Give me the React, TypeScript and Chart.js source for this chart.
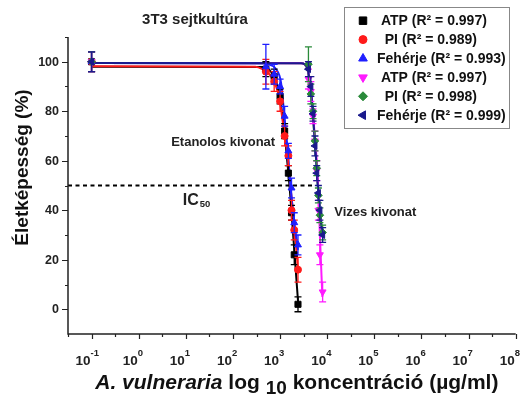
import React, { useEffect, useRef } from 'react';
import { Chart, registerables } from 'chart.js';
import { drawPoint } from 'chart.js/helpers';

Chart.register(...registerables);

const FONT = "'Liberation Sans', Arial, sans-serif";

// Concentrations (µg/ml) of the two extracts
const ethanolConc = [0.1, 500, 750, 1000, 1250, 1500, 1750, 2000, 2400];
const aqueousConc = [0.1, 4000, 4500, 5000, 5500, 6000, 6500, 7000, 8000];

// Ethanolic extract: viability (%) and SD
const ethAtp = [100, 97, 94, 86, 72, 55, 39, 22, 2];
const ethAtpErr = [4, 3, 3, 3, 3, 3, 3, 4, 3];
const ethPi = [100, 96, 92, 84, 70, 62, 40, 32, 16];
const ethPiErr = [4, 5, 4, 4, 4, 4, 4, 4, 5];
const ethProt = [100, 98, 95, 90, 78, 64, 49, 35, 26];
const ethProtErr = [4, 9, 4, 3, 4, 3, 4, 4, 4];

// Aqueous extract: viability (%) and SD
const aqAtp = [100, 93, 88, 78, 68, 56, 40, 22, 7];
const aqAtpErr = [4, 4, 4, 3, 4, 4, 4, 4, 4];
const aqPi = [100, 99, 87, 80, 68, 57, 46, 38, 31];
const aqPiErr = [4, 7, 4, 3, 4, 3, 3, 3, 3];
const aqProt = [100, 97, 90, 79, 66, 55, 47, 40, 30];
const aqProtErr = [4, 3, 4, 3, 4, 3, 3, 4, 3];

// Dose-response fits, sampled along each fitted curve
const fitEthAtpX = [0.1, 450, 560, 750, 950, 1200, 1450, 1600, 1800, 2000, 2430];
const fitEthAtpY = [98, 97.9, 97, 94, 87, 74, 58, 49, 36, 24, 2];
const fitEthPiX = [0.1, 300, 423, 594, 824, 968, 1235, 1450, 1655, 2010, 2400];
const fitEthPiY = [98.2, 98, 97, 95, 90, 85, 71, 62, 50, 34, 16];
const fitEthProtX = [0.1, 450, 540, 820, 1050, 1235, 1450, 1655, 2010, 2400];
const fitEthProtY = [99.5, 99.4, 99, 97, 91.5, 78, 64.5, 50, 35, 24];
const fitAqAtpX = [0.1, 2800, 3300, 3845, 4540, 5150, 5785, 6255, 7000, 7900];
const fitAqAtpY = [99.5, 99.4, 99, 97, 89, 76, 64, 55, 30, 5];
const fitAqPiX = [0.1, 2800, 3300, 3845, 4540, 5150, 5785, 6255, 7100, 8000];
const fitAqPiY = [99.5, 99.4, 99, 96.5, 88, 74, 61, 51, 39, 31];
const fitAqProtX = [0.1, 2800, 3300, 3845, 4540, 5150, 5785, 6255, 7100, 8000];
const fitAqProtY = [99.5, 99.4, 99, 97, 88.5, 75, 61.5, 51, 38, 29];

// IC50 reference level
const icLevel = 50;
const icLineEnd = 5000;

// Axis ticks
const yMajorTicks = [0, 20, 40, 60, 80, 100];
const yMinorTicks = [10, 30, 50, 70, 90, 110];
const xExponents = [-1, 0, 1, 2, 3, 4, 5, 6, 7, 8];

const legendLabels = [
  ' ATP (R\u00B2 = 0.997)',
  '  PI (R\u00B2 = 0.989)',
  'Feh\u00E9rje (R\u00B2 = 0.993)',
  ' ATP (R\u00B2 = 0.997)',
  '  PI (R\u00B2 = 0.998)',
  'Feh\u00E9rje (R\u00B2 = 0.999)',
];

const COLORS = {
  black: '#000000',
  red: '#ff1a1a',
  blue: '#1f1fff',
  magenta: '#ff1aff',
  green: '#2a8a3a',
  navy: '#1a1a8c',
};

const pts = (xs: number[], ys: number[]) => xs.map((x, i) => ({ x, y: ys[i] }));

function pointSet(label: string, xs: number[], ys: number[], errs: number[], color: string, style: string, radius: number, legendRadius: number, rotation: number, order: number) {
  return {
    label,
    data: pts(xs, ys),
    errors: errs,
    legendRadius,
    showLine: false,
    pointStyle: style,
    pointRadius: radius,
    pointRotation: rotation,
    pointBackgroundColor: color,
    pointBorderColor: color,
    pointBorderWidth: 1,
    borderColor: color,
    backgroundColor: color,
    order,
  };
}

function fitSet(xs: number[], ys: number[], color: string, order: number) {
  return {
    label: '',
    data: pts(xs, ys),
    showLine: true,
    borderColor: color,
    borderWidth: 2,
    pointRadius: 0,
    cubicInterpolationMode: 'monotone',
    fill: false,
    order,
  };
}

const decorations = {
  id: 'decorations',
  beforeDatasetDraw(chart: any, args: any) {
    const ds = chart.data.datasets[args.index];
    if (!ds.errors) return;
    const ctx = chart.ctx;
    const ys = chart.scales.y;
    ctx.save();
    ctx.strokeStyle = ds.borderColor;
    ctx.lineWidth = 1.3;
    args.meta.data.forEach((el: any, i: number) => {
      const v = ds.data[i].y;
      const e = ds.errors[i];
      const top = ys.getPixelForValue(v + e);
      const bot = ys.getPixelForValue(v - e);
      ctx.beginPath();
      ctx.moveTo(el.x, top);
      ctx.lineTo(el.x, bot);
      ctx.moveTo(el.x - 3.5, top);
      ctx.lineTo(el.x + 3.5, top);
      ctx.moveTo(el.x - 3.5, bot);
      ctx.lineTo(el.x + 3.5, bot);
      ctx.stroke();
    });
    ctx.restore();
  },
  afterDraw(chart: any) {
    const ctx = chart.ctx as CanvasRenderingContext2D;
    const { left, right, top, bottom } = chart.chartArea;
    const xs = chart.scales.x;
    const ys = chart.scales.y;
    ctx.save();

    // axes
    ctx.strokeStyle = '#222';
    ctx.lineWidth = 1.5;
    ctx.beginPath();
    ctx.moveTo(left, top);
    ctx.lineTo(left, bottom);
    ctx.lineTo(right, bottom);
    ctx.stroke();

    ctx.lineWidth = 1.2;
    ctx.beginPath();
    yMajorTicks.forEach((v) => {
      const p = Math.round(ys.getPixelForValue(v)) + 0.5;
      ctx.moveTo(left - 6, p);
      ctx.lineTo(left, p);
    });
    yMinorTicks.forEach((v) => {
      const p = Math.round(ys.getPixelForValue(v)) + 0.5;
      ctx.moveTo(left - 3, p);
      ctx.lineTo(left, p);
    });
    xExponents.forEach((e) => {
      const p = Math.round(xs.getPixelForValue(Math.pow(10, e))) + 0.5;
      ctx.moveTo(p, bottom);
      ctx.lineTo(p, bottom + 5);
      const m = Math.round(xs.getPixelForValue(Math.pow(10, e - 0.5))) + 0.5;
      ctx.moveTo(m, bottom);
      ctx.lineTo(m, bottom + 3);
    });
    ctx.stroke();

    // y tick labels
    ctx.fillStyle = '#222';
    ctx.font = `bold 12.5px ${FONT}`;
    ctx.textAlign = 'right';
    ctx.textBaseline = 'middle';
    yMajorTicks.forEach((v) => {
      ctx.fillText(String(v), left - 9, ys.getPixelForValue(v) + 0.5);
    });

    // x tick labels: 10 with superscript exponent
    ctx.textBaseline = 'alphabetic';
    xExponents.forEach((e) => {
      const p = xs.getPixelForValue(Math.pow(10, e));
      ctx.font = `bold 13.5px ${FONT}`;
      ctx.textAlign = 'right';
      ctx.fillText('10', p - 1, bottom + 31);
      ctx.font = `bold 9.5px ${FONT}`;
      ctx.textAlign = 'left';
      ctx.fillText(String(e), p - 1, bottom + 22);
    });

    // x axis title
    const parts = [
      { t: 'A. vulneraria', f: `italic bold 21px ${FONT}`, dy: 0 },
      { t: ' log ', f: `bold 21px ${FONT}`, dy: 0 },
      { t: '10', f: `bold 19px ${FONT}`, dy: 5 },
      { t: ' koncentr\u00E1ci\u00F3 (\u00B5g/ml)', f: `bold 21px ${FONT}`, dy: 0 },
    ];
    let total = 0;
    parts.forEach((p) => {
      ctx.font = p.f;
      total += ctx.measureText(p.t).width;
    });
    let cx = (left + right) / 2 + 5 - total / 2;
    ctx.fillStyle = '#111';
    ctx.textAlign = 'left';
    parts.forEach((p) => {
      ctx.font = p.f;
      ctx.fillText(p.t, cx, bottom + 55 + p.dy);
      cx += ctx.measureText(p.t).width;
    });

    // y axis title
    ctx.save();
    ctx.translate(23, (top + bottom) / 2 - 18);
    ctx.rotate(-Math.PI / 2);
    ctx.textAlign = 'center';
    ctx.textBaseline = 'middle';
    ctx.font = `bold 19px ${FONT}`;
    ctx.fillText('\u00C9letk\u00E9pess\u00E9g (%)', 0, 0);
    ctx.restore();

    // chart title
    ctx.font = `bold 15px ${FONT}`;
    ctx.textAlign = 'center';
    ctx.fillStyle = '#222';
    ctx.fillText('3T3 sejtkult\u00FAra', 195, 24);

    // annotations
    ctx.font = `bold 13px ${FONT}`;
    ctx.textAlign = 'center';
    ctx.fillText('Etanolos kivonat', xs.getPixelForValue(62), ys.getPixelForValue(66));
    ctx.textAlign = 'left';
    ctx.fillText('Vizes kivonat', xs.getPixelForValue(14100), ys.getPixelForValue(37.7));
    const icX = xs.getPixelForValue(8.6);
    const icY = ys.getPixelForValue(42.1);
    ctx.font = `bold 16px ${FONT}`;
    ctx.fillText('IC', icX, icY);
    const icW = ctx.measureText('IC').width;
    ctx.font = `bold 9.5px ${FONT}`;
    ctx.fillText('50', icX + icW + 1, icY + 1.5);

    // legend
    const bx = 344, by = 7, bw = 165, bh = 121;
    ctx.fillStyle = '#fff';
    ctx.fillRect(bx, by, bw, bh);
    ctx.strokeStyle = '#888';
    ctx.lineWidth = 1;
    ctx.strokeRect(bx + 0.5, by + 0.5, bw, bh);
    const markers = chart.data.datasets.filter((d: any) => d.errors);
    markers.forEach((d: any, i: number) => {
      const ry = 20.7 + i * 18.9;
      ctx.fillStyle = d.borderColor;
      ctx.strokeStyle = d.borderColor;
      ctx.lineWidth = 1;
      drawPoint(ctx, { pointStyle: d.pointStyle, rotation: d.pointRotation, radius: d.legendRadius, borderWidth: 1 }, 363, ry);
      ctx.fillStyle = '#111';
      ctx.font = `bold 14px ${FONT}`;
      ctx.textAlign = 'left';
      ctx.textBaseline = 'middle';
      ctx.fillText(d.label, 377, ry + 0.5);
    });

    ctx.restore();
  },
};

export default function App() {
  const ref = useRef<HTMLCanvasElement>(null);

  useEffect(() => {
    const datasets: any[] = [
      pointSet(legendLabels[0], ethanolConc, ethAtp, ethAtpErr, COLORS.black, 'rect', 4.3, 5.3, 0, 5),
      pointSet(legendLabels[1], ethanolConc, ethPi, ethPiErr, COLORS.red, 'circle', 3.5, 4, 0, 4),
      pointSet(legendLabels[2], ethanolConc, ethProt, ethProtErr, COLORS.blue, 'triangle', 4, 5, 0, 3),
      pointSet(legendLabels[3], aqueousConc, aqAtp, aqAtpErr, COLORS.magenta, 'triangle', 4, 5, 180, 2),
      pointSet(legendLabels[4], aqueousConc, aqPi, aqPiErr, COLORS.green, 'rectRot', 3.8, 4.5, 0, 1),
      pointSet(legendLabels[5], aqueousConc, aqProt, aqProtErr, COLORS.navy, 'triangle', 4, 5, -90, 0),
      fitSet(fitAqProtX, fitAqProtY, COLORS.navy, 10),
      fitSet(fitEthProtX, fitEthProtY, COLORS.blue, 11),
      fitSet(fitAqAtpX, fitAqAtpY, COLORS.magenta, 12),
      fitSet(fitAqPiX, fitAqPiY, COLORS.green, 13),
      fitSet(fitEthPiX, fitEthPiY, COLORS.red, 14),
      fitSet(fitEthAtpX, fitEthAtpY, COLORS.black, 15),
      {
        label: '',
        data: [{ x: Math.pow(10, -1.5), y: icLevel }, { x: icLineEnd, y: icLevel }],
        showLine: true,
        borderColor: '#000',
        borderWidth: 2,
        borderDash: [4, 3.5],
        pointRadius: 0,
        order: 20,
      },
    ];

    const chart = new Chart(ref.current as HTMLCanvasElement, {
      type: 'scatter',
      data: { datasets },
      options: {
        responsive: false,
        animation: false,
        devicePixelRatio: 1,
        layout: { padding: { left: 68, top: 37, right: 4, bottom: 69 } },
        scales: {
          x: { type: 'logarithmic', min: Math.pow(10, -1.5), max: 1e8, display: false },
          y: { type: 'linear', min: -10, max: 110, display: false },
        },
        plugins: { legend: { display: false }, tooltip: { enabled: false } },
      } as any,
      plugins: [decorations],
    });
    return () => chart.destroy();
  }, []);

  return (
    <div style={{ position: 'absolute', left: 0, top: 0, width: 521, height: 403, background: '#fff' }}>
      <canvas ref={ref} width={521} height={403} style={{ width: 521, height: 403 }} />
    </div>
  );
}
